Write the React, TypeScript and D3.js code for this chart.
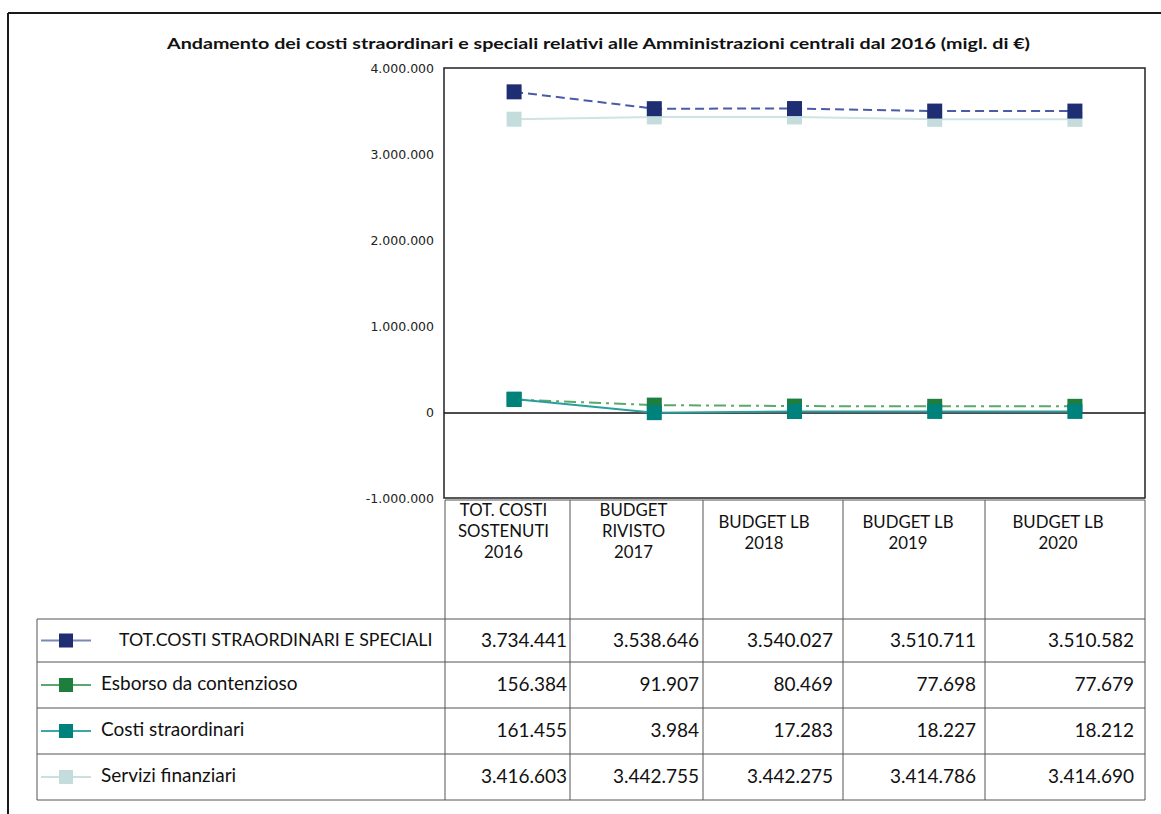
import React from "react";
import * as d3 from "d3";

const categories = ["TOT. COSTI SOSTENUTI 2016", "BUDGET RIVISTO 2017", "BUDGET LB 2018", "BUDGET LB 2019", "BUDGET LB 2020"];
const headerLines = [
  ["TOT. COSTI", "SOSTENUTI", "2016"],
  ["BUDGET", "RIVISTO", "2017"],
  ["BUDGET LB", "2018"],
  ["BUDGET LB", "2019"],
  ["BUDGET LB", "2020"],
];
const totValues = [3734441, 3538646, 3540027, 3510711, 3510582];
const esborsoValues = [156384, 91907, 80469, 77698, 77679];
const costiValues = [161455, 3984, 17283, 18227, 18212];
const serviziValues = [3416603, 3442755, 3442275, 3414786, 3414690];
const yTicks = [-1000000, 0, 1000000, 2000000, 3000000, 4000000];
const title = "Andamento dei costi straordinari e speciali relativi alle Amministrazioni centrali dal 2016 (migl. di €)";

const series = [
  { name: "TOT.COSTI STRAORDINARI E SPECIALI", values: totValues, line: "#4b5ba6", marker: "#1f2e72", legendLine: "#7a88b8", dash: "9,5", labelX: 119, labelSize: 17.8 },
  { name: "Esborso da contenzioso", values: esborsoValues, line: "#5aa86a", marker: "#1e7e3e", legendLine: "#5aa86a", dash: "12,5,3,5", labelX: 101, labelSize: 19 },
  { name: "Costi straordinari", values: costiValues, line: "#2a9d9d", marker: "#00827c", legendLine: "#3aa8a8", dash: "", labelX: 101, labelSize: 19 },
  { name: "Servizi finanziari", values: serviziValues, line: "#cfe3e3", marker: "#c4dcdc", legendLine: "#c8e0e0", dash: "", labelX: 101, labelSize: 19 },
];
const drawOrder = [3, 1, 2, 0];

const it = d3.formatLocale({ decimal: ",", thousands: ".", grouping: [3], currency: ["", "€"], minus: "-" });
const fmt = it.format(",d");

const PLOT = { left: 444, right: 1145, top: 68, bottom: 498 };
const colEdges = [445, 570, 703, 843, 985, 1145];
const headerShift = [-4, -3, -9, -6, -7];
const valuePad = [3, 4, 10, 9, 11];
const rowEdges = [619, 662, 708, 754, 800];
const TABLE_LEFT = 37;
const FONT = "Lato, 'Open Sans', sans-serif";

export default function App() {
  const x = d3.scalePoint<string>().domain(categories).range([PLOT.left, PLOT.right]).padding(0.5);
  const y = d3.scaleLinear().domain([-1000000, 4000000]).range([499, 69]);
  const lineGen = (vals: number[]) =>
    d3.line<number>().x((_, i) => x(categories[i]) as number).y((v) => y(v))(vals) as string;
  const ms = 15;

  return (
    <svg width={1161} height={814} style={{ position: "absolute", left: 0, top: 0, background: "#fff" }}>
      {/* outer frame */}
      <line x1={8} y1={13} x2={1161} y2={13} stroke="#1a1a1a" strokeWidth={2} />
      <line x1={8} y1={13} x2={8} y2={814} stroke="#1a1a1a" strokeWidth={2} />

      <text x={167} y={49} fontFamily={FONT} fontWeight="bold" fontSize={16} fill="#111" textLength={863} lengthAdjust="spacingAndGlyphs">
        {title}
      </text>

      {/* y tick labels */}
      {yTicks.map((t) => (
        <text key={t} x={434} y={y(t) + 4} textAnchor="end" fontFamily="'DejaVu Sans', sans-serif" fontSize={12.5} fill="#222">
          {fmt(t)}
        </text>
      ))}

      {/* plot border */}
      <rect x={PLOT.left} y={PLOT.top} width={PLOT.right - PLOT.left} height={PLOT.bottom - PLOT.top} fill="none" stroke="#222" strokeWidth={1.5} />
      <line x1={PLOT.left} x2={PLOT.right} y1={y(0)} y2={y(0)} stroke="#111" strokeWidth={1.5} />

      {/* series */}
      {drawOrder.map((si) => {
        const s = series[si];
        return (
          <g key={s.name}>
            <path d={lineGen(s.values)} fill="none" stroke={s.line} strokeWidth={2} strokeDasharray={s.dash || undefined} />
            {s.values.map((v, i) => (
              <rect key={i} x={(x(categories[i]) as number) - ms / 2} y={y(v) - ms / 2} width={ms} height={ms} fill={s.marker} />
            ))}
          </g>
        );
      })}

      {/* category header table */}
      <line x1={colEdges[0]} x2={colEdges[5]} y1={500} y2={500} stroke="#555" strokeWidth={1} />
      {colEdges.map((cx, i) => (
        <line key={i} x1={cx} x2={cx} y1={500} y2={rowEdges[0]} stroke="#555" strokeWidth={1} />
      ))}
      {headerLines.map((lines, i) => {
        const cx = (colEdges[i] + colEdges[i + 1]) / 2 + headerShift[i];
        const y0 = lines.length === 3 ? 516 : 528;
        return lines.map((ln, j) => (
          <text key={i + "-" + j} x={cx} y={y0 + j * 21} textAnchor="middle" fontFamily={FONT} fontSize={16.8} fill="#111">
            {ln}
          </text>
        ));
      })}

      {/* data table */}
      {rowEdges.map((ry, i) => (
        <line key={i} x1={TABLE_LEFT} x2={colEdges[5]} y1={ry} y2={ry} stroke="#555" strokeWidth={1} />
      ))}
      <line x1={TABLE_LEFT} x2={TABLE_LEFT} y1={rowEdges[0]} y2={rowEdges[4]} stroke="#555" strokeWidth={1} />
      {colEdges.map((cx, i) => (
        <line key={"c" + i} x1={cx} x2={cx} y1={rowEdges[0]} y2={rowEdges[4]} stroke="#555" strokeWidth={1} />
      ))}
      {series.map((s, ri) => {
        const cy = (rowEdges[ri] + rowEdges[ri + 1]) / 2;
        return (
          <g key={s.name}>
            <line x1={41} x2={91} y1={cy} y2={cy} stroke={s.legendLine} strokeWidth={2} />
            <rect x={66 - 7} y={cy - 7} width={14} height={14} fill={s.marker} />
            <text x={s.labelX} y={cy + 5} fontFamily={FONT} fontSize={s.labelSize} fill="#111">
              {s.name}
            </text>
            {s.values.map((v, ci) => (
              <text key={ci} x={colEdges[ci + 1] - valuePad[ci]} y={cy + 6} textAnchor="end" fontFamily={FONT} fontSize={19} fill="#111">
                {fmt(v)}
              </text>
            ))}
          </g>
        );
      })}
    </svg>
  );
}
